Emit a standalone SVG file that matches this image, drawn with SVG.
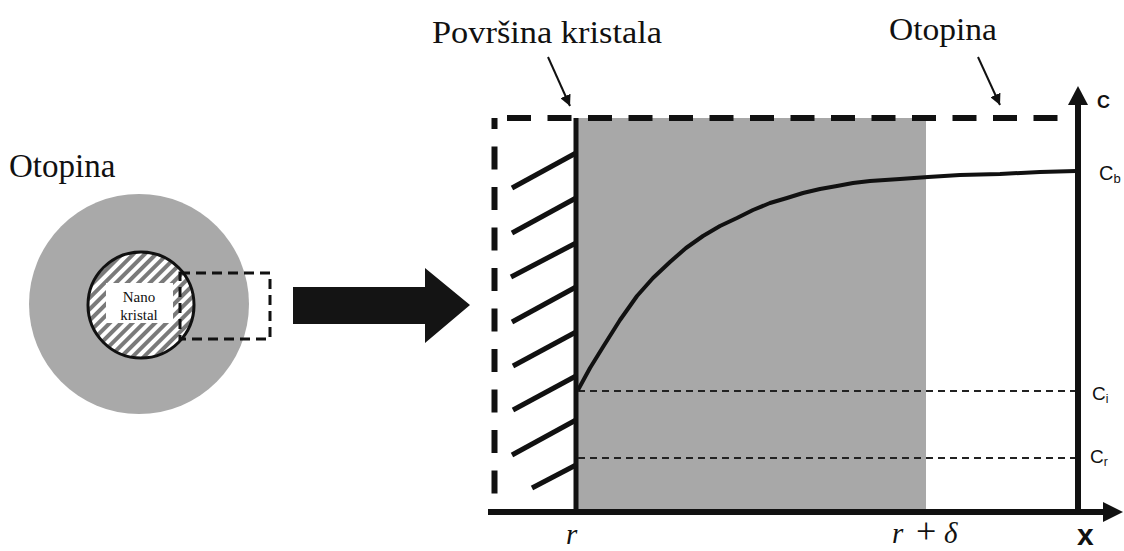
<svg xmlns="http://www.w3.org/2000/svg" width="1124" height="551" viewBox="0 0 1124 551">
<defs>
<pattern id="hatch" width="8" height="8" patternUnits="userSpaceOnUse" patternTransform="rotate(45)">
<rect width="8" height="8" fill="#ffffff"/>
<rect width="4" height="8" fill="#7a7a7a"/>
</pattern>
<marker id="ah" viewBox="0 0 10 10" refX="10" refY="5" markerWidth="11" markerHeight="11" markerUnits="userSpaceOnUse" orient="auto">
<path d="M0,0 L10,5 L0,10 z" fill="#111"/>
</marker>
<style>
.serif{font-family:"Liberation Serif","Times New Roman",serif;fill:#111}
.sans{font-family:"Liberation Sans",Arial,sans-serif;fill:#111}
.thick{stroke:#111;stroke-width:6;fill:none}
.hl{stroke:#111;stroke-width:5;stroke-linecap:butt}
.thin{stroke:#222;stroke-width:2;stroke-dasharray:7 5;fill:none}
</style>
</defs>
<rect width="1124" height="551" fill="#ffffff"/>

<g id="left-particle">
<text class="serif" x="9" y="177" font-size="33">Otopina</text>
<circle cx="139" cy="304" r="110" fill="#a9a9a9"/>
<circle cx="141" cy="305" r="53" fill="url(#hatch)" stroke="#111" stroke-width="3"/>
<rect x="106" y="283" width="67" height="40" fill="#ffffff"/>
<text class="serif" x="139" y="302" font-size="15" text-anchor="middle">Nano</text>
<text class="serif" x="139" y="320" font-size="15" text-anchor="middle">kristal</text>
<rect x="180" y="273" width="90" height="66" fill="none" stroke="#111" stroke-width="3" stroke-dasharray="10 6"/>
</g>

<g id="big-arrow">
<polygon points="293,287 425,287 425,268 470,305 425,343 425,324 293,324" fill="#141414"/>
</g>

<g id="diffusion-layer">
<rect x="578" y="118" width="348" height="394" fill="#a8a8a8"/>
</g>

<g id="crystal-surface">
<line x1="576" y1="118" x2="576" y2="512" class="hl"/>
<line x1="512" y1="188" x2="576" y2="153" class="hl"/>
<line x1="512" y1="233" x2="576" y2="198" class="hl"/>
<line x1="511" y1="277" x2="576" y2="243" class="hl"/>
<line x1="512" y1="322" x2="576" y2="287" class="hl"/>
<line x1="513" y1="366" x2="576" y2="332" class="hl"/>
<line x1="513" y1="410" x2="576" y2="376" class="hl"/>
<line x1="512" y1="455" x2="576" y2="420" class="hl"/>
<line x1="532" y1="488" x2="576" y2="465" class="hl"/>
</g>

<g id="boundary">
<line x1="494.5" y1="118" x2="494.5" y2="494" stroke="#111" stroke-width="6" stroke-dasharray="23 17.5" stroke-dashoffset="12"/>
<line x1="507" y1="118" x2="1058" y2="118" stroke="#111" stroke-width="6" stroke-dasharray="24 16.5"/>
</g>

<g id="levels">
<line x1="578" y1="391" x2="1076" y2="391" class="thin"/>
<line x1="578" y1="458" x2="1076" y2="458" class="thin"/>
<path d="M578,390 L590,368 L603,347 L620,320 L637,296 L653,278 L670,262 L686,248 L703,236 L720,226 L737,218 L753,210 L770,203 L787,198 L803,193 L820,189 L837,186 L853,183 L870,181 L900,179 L928,177 L960,175 L1000,174 L1040,172 L1076,171" fill="none" stroke="#111" stroke-width="4" stroke-linejoin="round"/>
</g>

<g id="axes">
<line x1="488" y1="512" x2="1106" y2="512" class="thick"/>
<polygon points="1103,502 1123,512 1103,522" fill="#111"/>
<line x1="1078" y1="515" x2="1078" y2="103" class="thick"/>
<polygon points="1068,105 1078,86 1088,105" fill="#111"/>
</g>

<g id="connectors">
<line x1="548" y1="57" x2="570" y2="106" stroke="#111" stroke-width="2" marker-end="url(#ah)"/>
<line x1="978" y1="57" x2="1000" y2="105" stroke="#111" stroke-width="2" marker-end="url(#ah)"/>
</g>

<g id="labels">
<text class="serif" x="432" y="43" font-size="31" textLength="230" lengthAdjust="spacingAndGlyphs">Površina kristala</text>
<text class="serif" x="889" y="40" font-size="32" textLength="108" lengthAdjust="spacingAndGlyphs">Otopina</text>
<text class="sans" x="1097" y="108" font-size="18" font-weight="bold">C</text>
<text class="sans" x="1099" y="180" font-size="20">C<tspan font-size="13" dy="3">b</tspan></text>
<text class="sans" x="1092" y="400" font-size="19">C<tspan font-size="12" dy="3">i</tspan></text>
<text class="sans" x="1090" y="463" font-size="19">C<tspan font-size="12" dy="3">r</tspan></text>
<text class="sans" x="1077" y="545" font-size="30" font-weight="bold">x</text>
<text class="serif" x="566" y="544" font-size="29" font-style="italic">r</text>
<text class="serif" x="892" y="543" font-size="29"><tspan font-style="italic">r</tspan><tspan x="916" font-size="36">+</tspan><tspan x="944" font-style="italic">δ</tspan></text>
</g>
</svg>
